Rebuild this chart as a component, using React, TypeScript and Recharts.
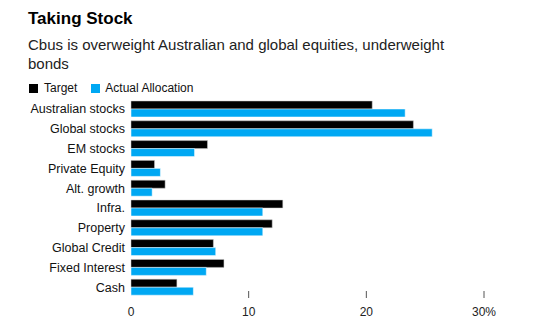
import React from 'react';
import { BarChart, Bar, XAxis, YAxis } from 'recharts';

const CATEGORIES = [
  'Australian stocks',
  'Global stocks',
  'EM stocks',
  'Private Equity',
  'Alt. growth',
  'Infra.',
  'Property',
  'Global Credit',
  'Fixed Interest',
  'Cash',
];
const TARGET = [20.5, 24.0, 6.5, 2.0, 2.9, 12.9, 12.0, 7.0, 7.9, 3.9];
const ACTUAL = [23.3, 25.6, 5.4, 2.5, 1.8, 11.2, 11.2, 7.2, 6.4, 5.3];
const X_TICKS = [0, 10, 20, 30];

const FONT = '"Liberation Sans", Arial, Helvetica, sans-serif';
const BLUE = '#00a8f3';

const data = CATEGORIES.map((name, i) => ({ name, target: TARGET[i], actual: ACTUAL[i] }));

// tick mark sits just above the label, inside the bottom of the plot
const XTick = ({ x, y, payload }: any) => {
  const last = payload.value === X_TICKS[X_TICKS.length - 1];
  return (
    <g>
      {payload.value !== 0 && (
        <line x1={x} x2={x} y1={y - 14} y2={y - 7} stroke="#555" strokeWidth={1} />
      )}
      <text x={x} y={y + 11} textAnchor="middle" fill="#222" fontSize={12} fontFamily={FONT}>
        {last ? `${payload.value}%` : payload.value}
      </text>
    </g>
  );
};

export default function App() {
  return (
    <div style={{ position: 'absolute', left: 0, top: 0, width: 553, height: 336, background: '#fff', fontFamily: FONT }}>
      <div style={{ position: 'absolute', left: 28, top: 9, fontSize: 17, fontWeight: 'bold', color: '#000' }}>
        Taking Stock
      </div>
      <div style={{ position: 'absolute', left: 28, top: 35, width: 440, fontSize: 15, lineHeight: '19px', color: '#222' }}>
        Cbus is overweight Australian and global equities, underweight bonds
      </div>
      <div style={{ position: 'absolute', left: 29, top: 81, fontSize: 12, color: '#111', display: 'flex', alignItems: 'center' }}>
        <span style={{ width: 9, height: 9, background: '#000', display: 'inline-block', marginRight: 6 }} />
        <span style={{ marginRight: 14 }}>Target</span>
        <span style={{ width: 9, height: 9, background: BLUE, display: 'inline-block', marginRight: 5 }} />
        <span>Actual Allocation</span>
      </div>
      <div style={{ position: 'absolute', left: 0, top: 0 }}>
        <BarChart
          width={553}
          height={336}
          data={data}
          layout="vertical"
          margin={{ top: 99, right: 69, bottom: 9, left: 0 }}
          barSize={8}
          barGap={0}
        >
          <XAxis
            type="number"
            domain={[0, 30]}
            ticks={X_TICKS}
            axisLine={false}
            tickLine={false}
            tick={<XTick />}
            height={30}
          />
          <YAxis
            type="category"
            dataKey="name"
            width={131}
            axisLine={false}
            tickLine={false}
            tickSize={0}
            tickMargin={6}
            tick={{ fill: '#111', fontSize: 12.5, fontFamily: FONT }}
            interval={0}
          />
          <Bar dataKey="target" fill="#000" stroke="#ccc" strokeWidth={0.5} isAnimationActive={false} />
          <Bar dataKey="actual" fill={BLUE} stroke="#fff" strokeWidth={0.5} isAnimationActive={false} />
        </BarChart>
      </div>
    </div>
  );
}
